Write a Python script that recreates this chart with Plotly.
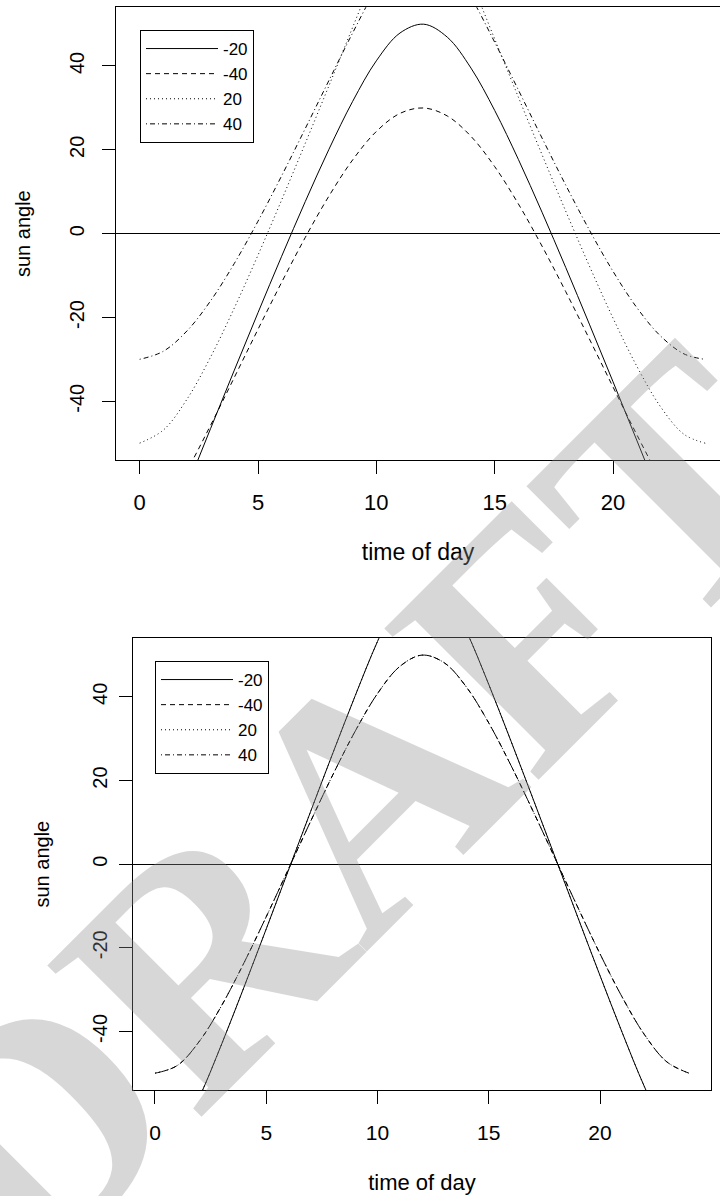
import plotly.graph_objects as go

# ---------------- data ----------------
series_names = ["-20", "-40", "20", "40"]
line_dashes = ["solid", "5px,4px", "1px,3px", "1px,3px,5px,3px"]

# top panel: time of day and sun angle per latitude
top_hours = [0, 1, 2, 3, 4, 5, 6, 7, 8, 9, 10, 11, 12, 13, 14, 15, 16, 17, 18, 19, 20, 21, 22, 23, 23.9]
top_lat_m20 = [-88.59, -74.50, -60.44, -46.45, -32.57, -18.85, -5.39, 7.69, 20.15, 31.57, 41.23, 47.87,
               49.97, 46.86, 39.49, 29.40, 17.72, 5.12, -8.05, -21.58, -35.33, -49.24, -63.25, -77.31, -90.0]
top_lat_m40 = [-69.96, -65.50, -56.47, -45.67, -34.29, -22.82, -11.60, -0.88, 8.99, 17.60, 24.38, 28.69,
               29.98, 28.06, 23.20, 16.00, 7.10, -2.97, -13.81, -25.11, -36.58, -47.90, -58.49, -66.90, -70.0]
top_lat_p20 = [-49.97, -46.86, -39.49, -29.40, -17.72, -5.12, 8.05, 21.58, 35.33, 49.24, 63.25, 77.31,
               88.59, 74.50, 60.44, 46.45, 32.57, 18.85, 5.39, -7.69, -20.15, -31.57, -41.23, -47.87, -50.0]
top_lat_p40 = [-29.98, -28.06, -23.20, -16.00, -7.10, 2.97, 13.81, 25.11, 36.58, 47.90, 58.49, 66.90,
               69.96, 65.50, 56.47, 45.67, 34.29, 22.82, 11.60, 0.88, -8.99, -17.60, -24.38, -28.69, -30.0]

# bottom panel
bot_hours = [0, 1, 2, 3, 4, 5, 6, 7, 8, 9, 10, 11, 12, 13, 14, 15, 16, 17, 18, 19, 20, 21, 22, 23, 24]
bot_lat_m20 = [-69.95, -66.03, -55.67, -42.97, -29.41, -15.48, -1.41, 12.67, 26.64, 40.30, 53.25, 64.29,
               69.95, 66.03, 55.67, 42.97, 29.41, 15.48, 1.41, -12.67, -26.64, -40.30, -53.25, -64.29, -69.95]
bot_lat_m40 = [-49.98, -48.15, -42.31, -33.76, -23.59, -12.57, -1.15, 10.30, 21.44, 31.82, 40.78, 47.26,
               49.98, 48.15, 42.31, 33.76, 23.59, 12.57, 1.15, -10.30, -21.44, -31.82, -40.78, -47.26, -49.98]
bot_lat_p20 = [-69.95, -66.03, -55.67, -42.97, -29.41, -15.48, -1.41, 12.67, 26.64, 40.30, 53.25, 64.29,
               69.95, 66.03, 55.67, 42.97, 29.41, 15.48, 1.41, -12.67, -26.64, -40.30, -53.25, -64.29, -69.95]
bot_lat_p40 = [-49.98, -48.15, -42.31, -33.76, -23.59, -12.57, -1.15, 10.30, 21.44, 31.82, 40.78, 47.26,
               49.98, 48.15, 42.31, 33.76, 23.59, 12.57, 1.15, -10.30, -21.44, -31.82, -40.78, -47.26, -49.98]

x_ticks = [0, 5, 10, 15, 20]
x_tick_text = ["0", "5", "10", "15", "20"]
y_ticks = [-40, -20, 0, 20, 40]
y_tick_text = ["-40", "-20", "0", "20", "40"]

watermark_text = "DRAFT"

FONT = "Liberation Sans, Arial, sans-serif"
W, H = 720, 1196

fig = go.Figure()

top_series = [top_lat_m20, top_lat_m40, top_lat_p20, top_lat_p40]
bot_series = [bot_lat_m20, bot_lat_m40, bot_lat_p20, bot_lat_p40]

for name, dash, ys in zip(series_names, line_dashes, top_series):
    fig.add_trace(go.Scatter(x=top_hours, y=ys, mode="lines", name=name,
                             line=dict(color="black", width=1, dash=dash, shape="spline", smoothing=1.0),
                             xaxis="x", yaxis="y", legend="legend"))
for name, dash, ys in zip(series_names, line_dashes, bot_series):
    fig.add_trace(go.Scatter(x=bot_hours, y=ys, mode="lines", name=name,
                             line=dict(color="black", width=1, dash=dash, shape="spline", smoothing=1.0),
                             xaxis="x2", yaxis="y2", legend="legend2"))

def px_x(p):
    return p / W

def px_y(p):
    return 1 - p / H

common_x = dict(tickvals=x_ticks, ticktext=x_tick_text, ticks="outside", ticklen=13,
                tickcolor="black", tickwidth=1,
                showline=True, linecolor="black", linewidth=1, mirror=True,
                showgrid=False, zeroline=False)
common_y = dict(tickvals=y_ticks, ticktext=y_tick_text, ticks="outside", ticklen=13,
                tickcolor="black", tickwidth=1,
                showline=True, linecolor="black", linewidth=1,
                showgrid=False, zeroline=True, zerolinecolor="black", zerolinewidth=1,
                tickangle=-90, range=[-54, 54])

legend_common = dict(xanchor="left", yanchor="top", bordercolor="black", borderwidth=1,
                     bgcolor="white", font=dict(size=17), itemwidth=72, tracegroupgap=0)

fig.update_layout(
    width=W, height=H,
    margin=dict(l=0, r=0, t=0, b=0),
    paper_bgcolor="white", plot_bgcolor="white",
    font=dict(family=FONT, color="black", size=20),
    showlegend=True,
    xaxis=dict(domain=[px_x(116), 1.0], range=[-1.0, 24.52], anchor="y",
               tickfont=dict(size=22), ticklabelstandoff=10,
               title=dict(text="time of day", font=dict(size=23), standoff=29),
               **common_x),
    yaxis=dict(domain=[px_y(460), px_y(7.3)], anchor="x", mirror=False,
               tickfont=dict(size=20), ticklabelstandoff=10,
               title=dict(text="sun angle", font=dict(size=20), standoff=29),
               **common_y),
    xaxis2=dict(domain=[px_x(133.3), px_x(710.7)], range=[-0.975, 24.975], anchor="y2",
                tickfont=dict(size=21), ticklabelstandoff=11,
                title=dict(text="time of day", font=dict(size=22), standoff=31),
                **common_x),
    yaxis2=dict(domain=[px_y(1090), px_y(638.3)], anchor="x2", mirror=True,
                tickfont=dict(size=20), ticklabelstandoff=4,
                title=dict(text="sun angle", font=dict(size=20), standoff=34),
                **common_y),
    legend=dict(x=px_x(140), y=px_y(30), **legend_common),
    legend2=dict(x=px_x(155), y=px_y(661), **legend_common),
    annotations=[dict(text="<b>" + watermark_text + "</b>", xref="paper", yref="paper",
                      x=px_x(350), y=px_y(810), xanchor="center", yanchor="middle",
                      showarrow=False, textangle=-45,
                      font=dict(family="Liberation Serif, Times New Roman, serif", size=330,
                                color="rgba(140,140,140,0.35)"))],
)

fig.write_html("out.html", config={"displayModeBar": False},
               post_script="document.body.style.margin='0px';document.body.style.overflow='hidden';")
